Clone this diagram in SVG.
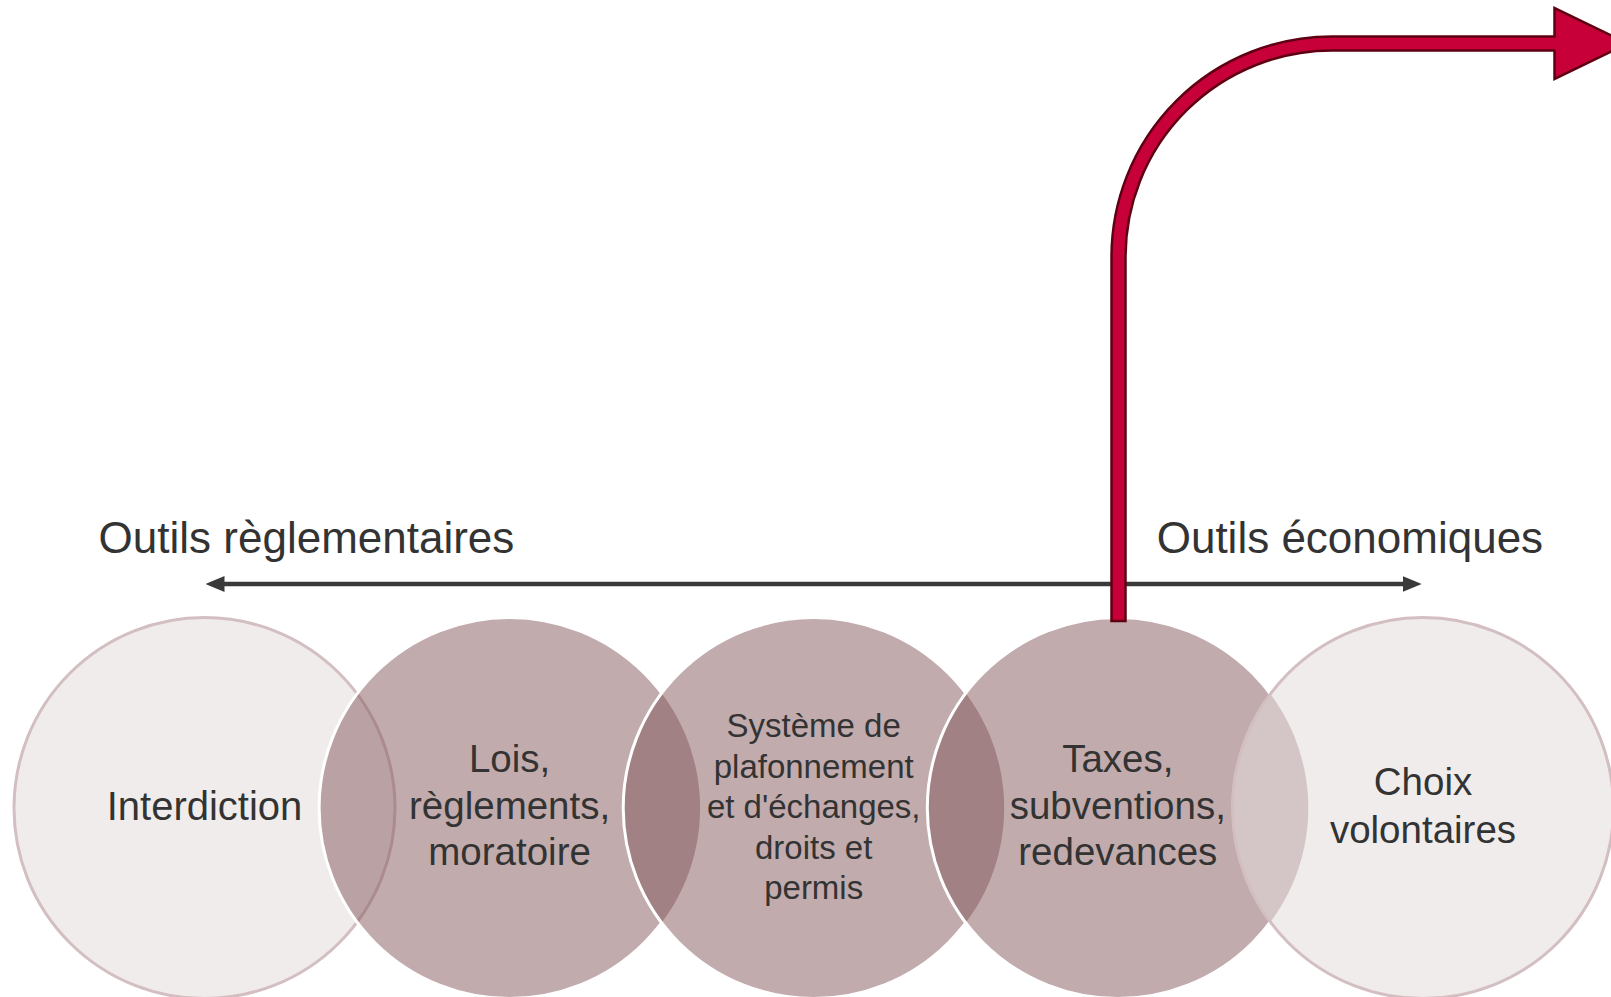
<svg xmlns="http://www.w3.org/2000/svg" width="1611" height="997" viewBox="0 0 1611 997">
  <style>
    .lbl { font-family: "Liberation Sans", Arial, sans-serif; fill: #333333; text-anchor: middle; }
    .big { font-size: 38.5px; }
    .small { font-size: 33px; }
    .title { font-family: "Liberation Sans", Arial, sans-serif; fill: #333333; font-size: 44px; }
    .light { fill: rgb(227,220,220); fill-opacity: 0.55; stroke: #D3BFC1; stroke-width: 3; }
    .medium { fill: rgb(131,88,92); fill-opacity: 0.5; stroke: none; }
    .wring { fill: none; stroke: #FFFFFF; stroke-width: 3; }
  </style>
  <defs>
    <marker id="ah" viewBox="0 0 19 16" markerWidth="19" markerHeight="16" refX="9" refY="8" orient="auto-start-reverse" markerUnits="userSpaceOnUse">
      <path d="M0,0 L19,8 L0,16 Z" fill="#3A3A3A"/>
    </marker>
    <clipPath id="out3"><path clip-rule="evenodd" d="M0,0 H1611 V997 H0 Z M623.2,808 a190.5,190.5 0 1 0 381,0 a190.5,190.5 0 1 0 -381,0 Z"/></clipPath>
    <clipPath id="out4"><path clip-rule="evenodd" d="M0,0 H1611 V997 H0 Z M927.3,808 a190.5,190.5 0 1 0 381,0 a190.5,190.5 0 1 0 -381,0 Z"/></clipPath>
    <clipPath id="out5"><path clip-rule="evenodd" d="M0,0 H1611 V997 H0 Z M1232.5,808 a190.5,190.5 0 1 0 381,0 a190.5,190.5 0 1 0 -381,0 Z"/></clipPath>
  </defs>

  <g id="node-interdiction">
    <circle class="light" cx="204.5" cy="808" r="190.5"/>
  </g>
  <g id="node-lois">
    <circle class="medium" cx="509.6" cy="808" r="190.5"/>
    <circle class="wring" cx="509.6" cy="808" r="190.5" clip-path="url(#out3)"/>
  </g>
  <g id="node-systeme">
    <circle class="medium" cx="813.7" cy="808" r="190.5"/>
    <circle class="wring" cx="813.7" cy="808" r="190.5" clip-path="url(#out4)"/>
  </g>
  <g id="node-taxes">
    <circle class="medium" cx="1117.8" cy="808" r="190.5"/>
    <circle class="wring" cx="1117.8" cy="808" r="190.5" clip-path="url(#out5)"/>
  </g>
  <g id="node-choix">
    <circle class="light" cx="1423" cy="808" r="190.5"/>
  </g>

  <g id="labels">
    <text class="lbl big" x="204.5" y="820" style="font-size:40px">Interdiction</text>
    <text class="lbl big" x="509.6" y="772">Lois,</text>
    <text class="lbl big" x="509.6" y="818.5">règlements,</text>
    <text class="lbl big" x="509.6" y="865">moratoire</text>
    <text class="lbl small" x="813.7" y="737">Système de</text>
    <text class="lbl small" x="813.7" y="777.5">plafonnement</text>
    <text class="lbl small" x="813.7" y="818">et d'échanges,</text>
    <text class="lbl small" x="813.7" y="858.5">droits et</text>
    <text class="lbl small" x="813.7" y="899">permis</text>
    <text class="lbl big" x="1117.8" y="772">Taxes,</text>
    <text class="lbl big" x="1117.8" y="818.5">subventions,</text>
    <text class="lbl big" x="1117.8" y="865">redevances</text>
    <text class="lbl big" x="1423" y="795">Choix</text>
    <text class="lbl big" x="1423" y="843">volontaires</text>
    <text class="title" x="98.6" y="553">Outils règlementaires</text>
    <text class="title" x="1156.7" y="553">Outils économiques</text>
  </g>

  <g id="connectors">
    <line x1="215.5" y1="584" x2="1411.7" y2="584" stroke="#3A3A3A" stroke-width="4.5" marker-start="url(#ah)" marker-end="url(#ah)"/>
    <path d="M1111.5,621 L1111.5,257 A220.5,220.5 0 0 1 1332,36.5 L1554.5,36.5 L1554.5,8 L1628,43.5 L1554.5,79 L1554.5,50.5 L1332,50.5 A206.5,206.5 0 0 0 1125.5,257 L1125.5,621 Z" fill="#C8003A" stroke="#5E0012" stroke-width="2.5" stroke-linejoin="miter"/>
  </g>
</svg>
